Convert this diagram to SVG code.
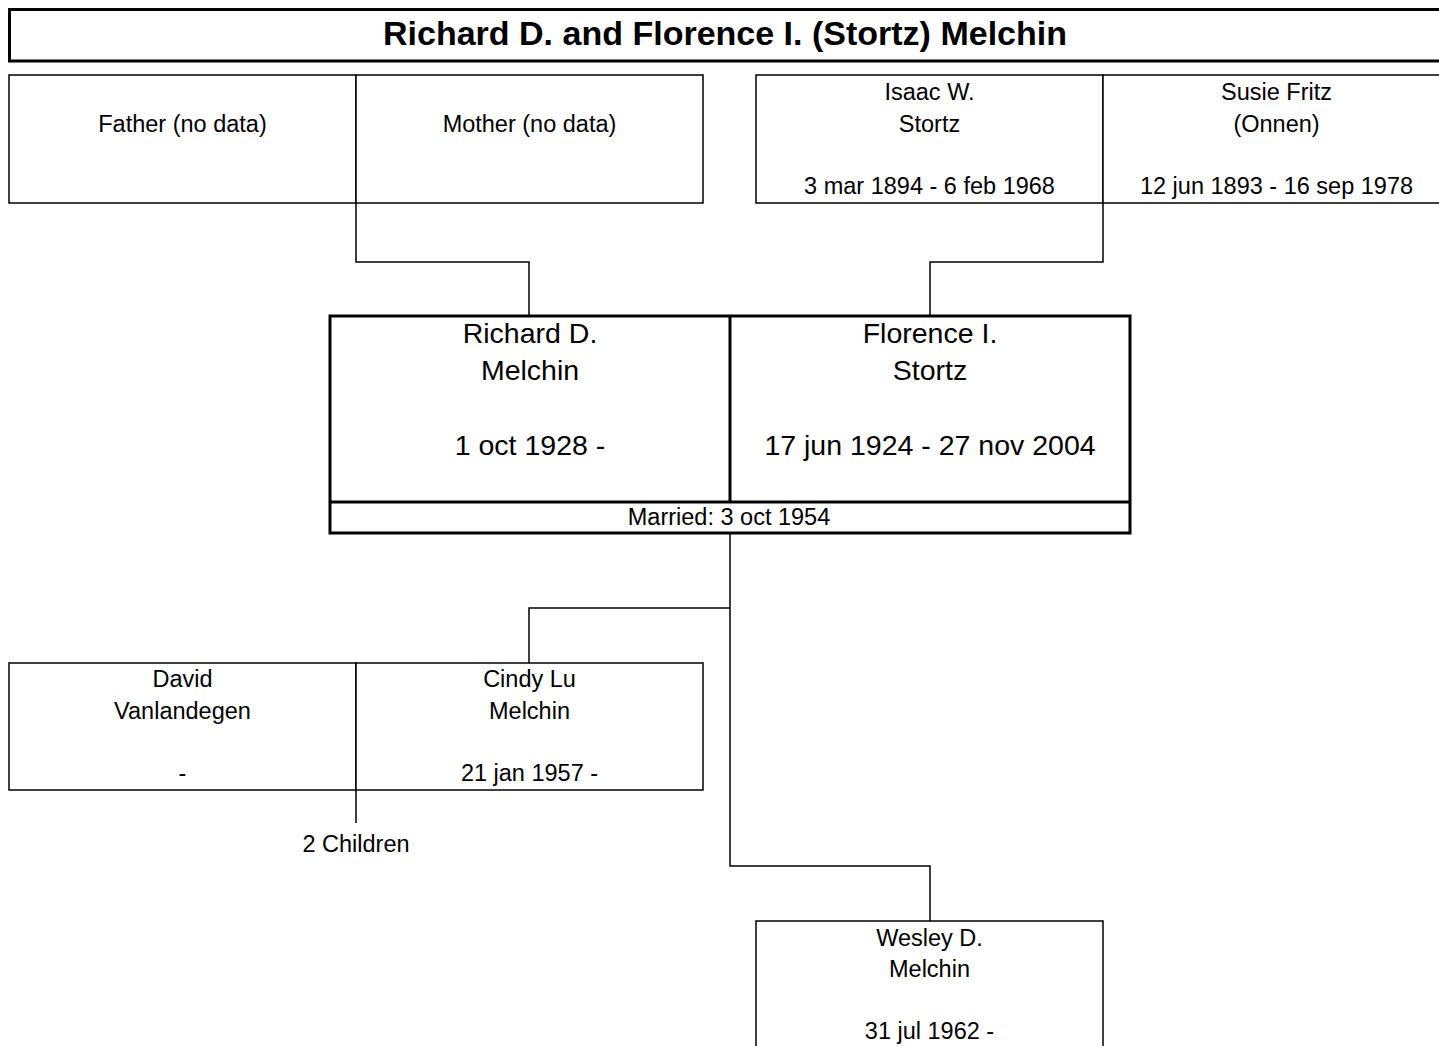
<svg xmlns="http://www.w3.org/2000/svg" width="1439" height="1046" viewBox="0 0 1439 1046">
<style>
text{font-family:"Liberation Sans",Arial,sans-serif;fill:#000;text-anchor:middle}
.t{font-size:23.5px}
.c{font-size:28.5px}
.h{font-size:33px;font-weight:bold}
.thin{fill:#fff;stroke:#000;stroke-width:1.5}
.thick{fill:#fff;stroke:#000;stroke-width:3}
.ln{fill:none;stroke:#000;stroke-width:1.5}
.ln3{fill:none;stroke:#000;stroke-width:3}
</style>
<rect width="1439" height="1046" fill="#fff"/>
<g id="title">
<rect class="thick" x="9.5" y="9.5" width="1431" height="51.5"/>
<text class="h" x="725" y="44.5" textLength="684" lengthAdjust="spacingAndGlyphs">Richard D. and Florence I. (Stortz) Melchin</text>
</g>
<g id="connectors">
<polyline class="ln" points="356,203 356,262 529,262 529,316"/>
<polyline class="ln" points="1103,203 1103,262 930,262 930,316"/>
<polyline class="ln" points="730,533 730,866 930,866 930,921"/>
<polyline class="ln" points="730,608 529,608 529,663"/>
<line class="ln" x1="356" y1="790" x2="356" y2="823"/>
</g>
<g id="father">
<rect class="thin" x="9" y="75" width="347" height="128"/>
<text class="t" x="182.5" y="131.5">Father (no data)</text>
</g>
<g id="mother">
<rect class="thin" x="356" y="75" width="347" height="128"/>
<text class="t" x="529.5" y="131.5">Mother (no data)</text>
</g>
<g id="isaac">
<rect class="thin" x="756" y="75" width="347" height="128"/>
<text class="t" x="929.5" y="100">Isaac W.</text>
<text class="t" x="929.5" y="131.5">Stortz</text>
<text class="t" x="929.5" y="193.5">3 mar 1894 - 6 feb 1968</text>
</g>
<g id="susie">
<rect class="thin" x="1103" y="75" width="347" height="128"/>
<text class="t" x="1276.5" y="100">Susie Fritz</text>
<text class="t" x="1276.5" y="131.5">(Onnen)</text>
<text class="t" x="1276.5" y="193.5">12 jun 1893 - 16 sep 1978</text>
</g>
<g id="couple">
<rect class="thick" x="330" y="316" width="800" height="217"/>
<line class="ln3" x1="330" y1="502" x2="1130" y2="502"/>
<line class="ln3" x1="730" y1="316" x2="730" y2="502"/>
</g>
<g id="richard">
<text class="c" x="530" y="343">Richard D.</text>
<text class="c" x="530" y="380">Melchin</text>
<text class="c" x="530" y="455">1 oct 1928 -</text>
</g>
<g id="florence">
<text class="c" x="930" y="343">Florence I.</text>
<text class="c" x="930" y="380">Stortz</text>
<text class="c" x="930" y="455">17 jun 1924 - 27 nov 2004</text>
</g>
<g id="marriage">
<text class="t" x="729" y="525">Married: 3 oct 1954</text>
</g>
<g id="david">
<rect class="thin" x="9" y="663" width="347" height="127"/>
<text class="t" x="182.5" y="687">David</text>
<text class="t" x="182.5" y="718.5">Vanlandegen</text>
<text class="t" x="182.5" y="781">-</text>
</g>
<g id="cindy">
<rect class="thin" x="356" y="663" width="347" height="127"/>
<text class="t" x="529.5" y="687">Cindy Lu</text>
<text class="t" x="529.5" y="718.5">Melchin</text>
<text class="t" x="529.5" y="781">21 jan 1957 -</text>
</g>
<g id="children">
<text class="t" x="356" y="851.5">2 Children</text>
</g>
<g id="wesley">
<rect class="thin" x="756" y="921" width="347" height="140"/>
<text class="t" x="929.5" y="945.5">Wesley D.</text>
<text class="t" x="929.5" y="977">Melchin</text>
<text class="t" x="929.5" y="1039">31 jul 1962 -</text>
</g>
</svg>
